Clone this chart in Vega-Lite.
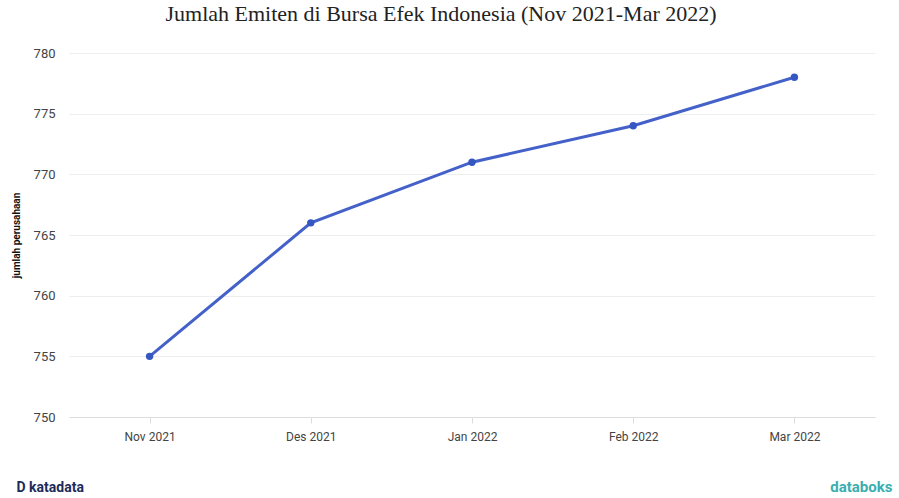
{
  "$schema": "https://vega.github.io/schema/vega-lite/v6.json",
  "autosize": "none",
  "width": 806,
  "height": 364,
  "padding": {"left": 69, "top": 53, "right": 24, "bottom": 81},
  "background": "white",
  "title": {
    "text": "Jumlah Emiten di Bursa Efek Indonesia (Nov 2021-Mar 2022)",
    "font": "Liberation Serif",
    "fontSize": 22,
    "fontWeight": "normal",
    "color": "#222222",
    "anchor": "middle",
    "dx": -31,
    "offset": 21
  },
  "data": {
    "values": [
      {"bulan": "Nov 2021", "jumlah": 755},
      {"bulan": "Des 2021", "jumlah": 766},
      {"bulan": "Jan 2022", "jumlah": 771},
      {"bulan": "Feb 2022", "jumlah": 774},
      {"bulan": "Mar 2022", "jumlah": 778}
    ]
  },
  "config": {
    "view": {"stroke": null},
    "axis": {"labelFont": "Roboto", "titleFont": "Roboto"}
  },
  "layer": [
    {
      "mark": {"type": "line", "color": "#4461c9", "strokeWidth": 3},
      "encoding": {
        "x": {
          "field": "bulan", "type": "ordinal", "sort": null,
          "scale": {"type": "point", "padding": 0.5},
          "axis": {
            "orient": "bottom",
            "labelAngle": 0, "labelFontSize": 12, "labelColor": "#444444", "labelPadding": 8,
            "domainColor": "#dddddd", "tickColor": "#dddddd", "tickSize": 6, "grid": false,
            "title": "D katadata", "titleFontSize": 14, "titleFontWeight": "bold", "titleColor": "#1d2b5c",
            "titleAnchor": "start", "titleAlign": "left", "titleX": -53, "titleY": 77, "titleBaseline": "bottom"
          }
        },
        "y": {
          "field": "jumlah", "type": "quantitative",
          "scale": {"domain": [750, 780], "zero": false, "nice": false},
          "axis": {
            "values": [750, 755, 760, 765, 770, 775, 780],
            "labelFontSize": 13, "labelColor": "#444444", "labelPadding": 14,
            "domain": false, "ticks": false, "gridColor": "#eeeeee",
            "title": "jumlah perusahaan", "titleFontSize": 10, "titleFontWeight": "bold",
            "titleColor": "#111111", "titlePadding": 12
          }
        }
      }
    },
    {
      "mark": {"type": "point", "filled": true, "size": 55, "color": "#3457c2", "opacity": 1},
      "encoding": {
        "x": {
          "field": "bulan", "type": "ordinal", "sort": null,
          "scale": {"type": "point", "padding": 0.5},
          "axis": {
            "orient": "bottom",
            "labels": false, "ticks": false, "domain": false, "grid": false,
            "title": "databoks", "titleFontSize": 15, "titleFontWeight": "bold", "titleColor": "#3aaeb0",
            "titleAnchor": "end", "titleAlign": "right", "titleX": 823, "titleY": 77, "titleBaseline": "bottom"
          }
        },
        "y": {"field": "jumlah", "type": "quantitative"}
      }
    }
  ],
  "resolve": {"axis": {"x": "independent"}}
}
